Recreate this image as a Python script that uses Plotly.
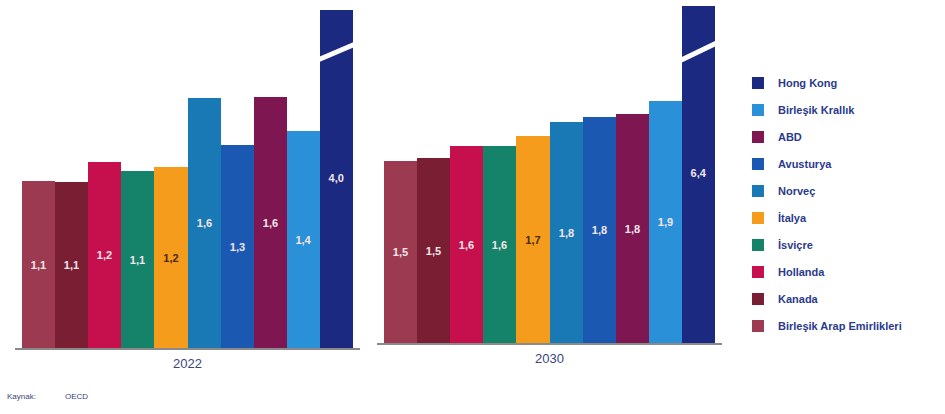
import plotly.graph_objects as go
from plotly.subplots import make_subplots

countries = ["Birleşik Arap Emirlikleri", "Kanada", "Hollanda", "İsviçre", "İtalya",
             "Norveç", "Avusturya", "ABD", "Birleşik Krallık", "Hong Kong"]
values_2022 = [1.08, 1.07, 1.20, 1.14, 1.17, 1.61, 1.31, 1.62, 1.40, 4.0]
values_2030 = [1.46, 1.48, 1.58, 1.58, 1.66, 1.77, 1.81, 1.83, 1.94, 6.4]
years = ["2022", "2030"]
colors = ["#9c3a52", "#7a1e34", "#c6104e", "#14836a", "#f59c1c",
          "#1879b4", "#1a58b2", "#7e1652", "#2a90d8", "#1b2a80"]
text_colors = ["#f3e6ea"] * 10
text_colors[4] = "#4a2a08"

def fmt(v):
    return f"{v:.1f}".replace(".", ",")

y_max = [338 / 155, 337 / 125]

fig = make_subplots(rows=1, cols=2, horizontal_spacing=0.02)

for col, vals in ((1, values_2022), (2, values_2030)):
    ymax = y_max[col - 1]
    for i, c in enumerate(countries):
        clipped = vals[i] > ymax
        fig.add_trace(go.Bar(
            x=[c], y=[vals[i]], name=c, legendgroup=c, showlegend=(col == 1),
            legendrank=100 - i,
            marker=dict(color=colors[i], line=dict(width=0)),
            text=[fmt(vals[i])], textposition="none" if clipped else "inside",
            insidetextanchor="middle", textangle=0, constraintext="none",
            textfont=dict(family="Liberation Sans", size=11, color=text_colors[i], weight="bold"),
            hoverinfo="x+y",
        ), row=1, col=col)
        if clipped:
            # broken-axis bar: label sits in the middle of the visible part
            fig.add_trace(go.Scatter(
                x=[c], y=[ymax / 2], mode="text", text=[fmt(vals[i])], showlegend=False,
                textfont=dict(family="Liberation Sans", size=11, color=text_colors[i], weight="bold"),
                hoverinfo="skip",
            ), row=1, col=col)

fig.update_layout(
    width=945, height=414,
    margin=dict(l=15, r=223, t=5, b=66),
    paper_bgcolor="white", plot_bgcolor="white",
    barmode="relative", bargap=0,
    font=dict(family="Liberation Sans", color="#2b3a8c"),
    legend=dict(x=1.0226, y=0.815, xanchor="left", yanchor="top",
                traceorder="grouped", tracegroupgap=8,
                font=dict(size=11, color="#2b3a8c", weight="bold"),
                bgcolor="rgba(0,0,0,0)"),
    showlegend=True,
)

for ax in ("xaxis", "xaxis2"):
    fig.layout[ax].update(type="category", categoryorder="array", categoryarray=countries,
                          range=[-0.72, 9.72], showticklabels=False, ticks="",
                          showgrid=False, zeroline=False,
                          showline=True, linecolor="#8a8a8a", linewidth=2)
fig.layout.xaxis.domain = [0, 345 / 707]
fig.layout.xaxis2.domain = [362 / 707, 1]

fig.layout.yaxis.update(range=[0, y_max[0]], domain=[0, 338 / 343], visible=False,
                        showgrid=False, zeroline=False)
fig.layout.yaxis2.update(range=[0, y_max[1]], domain=[5 / 343, 342 / 343], visible=False,
                         showgrid=False, zeroline=False)

# axis break marks on the Hong Kong bars
fig.add_shape(type="line", xref="x", yref="y", x0=8.3, x1=9.65,
              y0=(348 - 62) / 155, y1=(348 - 43) / 155,
              line=dict(color="white", width=5))
fig.add_shape(type="line", xref="x2", yref="y2", x0=8.3, x1=9.62,
              y0=(343 - 63) / 125, y1=(343 - 42) / 125,
              line=dict(color="white", width=5))

fig.add_annotation(text=years[0], xref="x domain", x=0.5, yref="paper", y=-0.073,
                   showarrow=False, font=dict(size=13, color="#3a4580"))
fig.add_annotation(text=years[1], xref="x2 domain", x=0.5, yref="paper", y=-0.058,
                   showarrow=False, font=dict(size=13, color="#3a4580"))
fig.add_annotation(text="Kaynak:", xref="paper", x=-0.014, xanchor="left", yref="paper", y=-0.16,
                   showarrow=False, font=dict(size=8, color="#3a4580"))
fig.add_annotation(text="OECD", xref="paper", x=0.068, xanchor="left", yref="paper", y=-0.16,
                   showarrow=False, font=dict(size=8, color="#3a4580"))

fig.write_html("out.html")
